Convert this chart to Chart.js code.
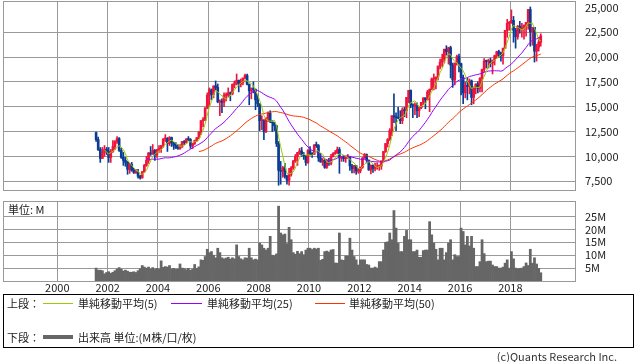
<!DOCTYPE html>
<html>
<head>
<meta charset="utf-8">
<script src="https://cdn.jsdelivr.net/npm/chart.js@4.4.1/dist/chart.umd.min.js"></script>
<style>
  body { margin: 0; background: #fff; width: 638px; height: 362px; overflow: hidden; position: relative;
         font-family: "Noto Sans CJK JP", "DejaVu Sans", sans-serif; color: #222; }
  #upper { position: absolute; left: 0; top: 0; width: 638px; height: 191px; }
  #lower { position: absolute; left: 0; top: 195px; width: 638px; height: 100px; }
  .unit { position: absolute; left: 8px; top: 202px; font-size: 11px; line-height: 14px; }
  .legend { position: absolute; left: 3px; top: 294px; width: 631px; height: 54px; border: 1px solid #000; box-sizing: border-box; font-size: 11px; }
  .legend span { position: absolute; line-height: 14px; white-space: nowrap; }
  .legend i { position: absolute; display: block; }
  .copy { position: absolute; right: 21px; top: 349px; font-size: 11px; line-height: 14px; color: #333; }
  #err { position: absolute; left: 10px; top: 10px; color: #c00; font-size: 11px; }
</style>
</head>
<body>
<div id="upper"><canvas id="priceChart"></canvas></div>
<div id="lower"><canvas id="volumeChart"></canvas></div>
<div class="unit">単位: M</div>
<div class="legend">
  <span style="left:3px;top:1px">上段：</span>
  <i style="left:39px;top:8px;width:30px;height:1px;background:#99cc00"></i>
  <span style="left:74px;top:1px">単純移動平均(5)</span>
  <i style="left:167px;top:8px;width:31px;height:1px;background:#9900ff"></i>
  <span style="left:203px;top:1px">単純移動平均(25)</span>
  <i style="left:311px;top:8px;width:30px;height:1px;background:#ff3300"></i>
  <span style="left:345px;top:1px">単純移動平均(50)</span>
  <span style="left:3px;top:35px">下段：</span>
  <i style="left:39px;top:40px;width:30px;height:4px;background:#666"></i>
  <span style="left:74px;top:35px">出来高 単位:(M株/口/枚)</span>
</div>
<div class="copy">(c)Quants Research Inc.</div>
<div id="err"></div>

<script>
window.onerror = function (m) { document.getElementById('err').textContent += ' ' + m; };

// Monthly bars, first one is July 2001
const startYear = 2001;
const startMonth = 7;

const opens = [
  12400, 11700, 10700, 9800, 10400, 10700,
  10500, 9900, 10500, 11000, 11500, 11800, 10600, 9900, 9600, 9400, 8700, 9200,
  8600, 8350, 8400, 8000, 7850, 8450, 9100, 9600, 10350, 10250, 10600, 10150,
  10700, 10800, 11100, 11750, 11800, 11300, 11900, 11400, 11100, 10850, 10800, 10950,
  11500, 11400, 11750, 11700, 11050, 11300, 11600, 11900, 12450, 13600, 13650, 14900,
  16150, 16700, 16250, 17100, 16950, 15500, 15550, 15450, 16150, 16150, 16400, 16300,
  17250, 17400, 17650, 17300, 17400, 17900, 18150, 17250, 16600, 16800, 16750, 15700,
  15300, 13600, 13600, 12500, 13850, 14350, 13500, 13400, 13100, 11300, 8600, 8500,
  8850, 8000, 7600, 8200, 8850, 9550, 10000, 10400, 10550, 10150, 10100, 9400,
  10600, 10250, 10200, 11150, 11100, 9850, 9450, 9600, 8900, 9450, 9300, 10000,
  10300, 10350, 10700, 9850, 9950, 9780, 9900, 9930, 9050, 8780, 9070, 8520,
  8550, 8900, 9830, 10180, 9620, 8640, 9100, 8790, 8940, 8970, 9030, 9550,
  10500, 11300, 11700, 12600, 14100, 14000, 13900, 13850, 13600, 14700, 14600, 15950,
  16650, 15200, 15100, 15100, 14600, 14900, 15450, 15900, 15700, 16500, 16750, 17800,
  17800, 18000, 19100, 19500, 19800, 20800, 20550, 20950, 19200, 17700, 19400, 20050,
  19350, 17950, 16400, 17150, 17050, 17600, 15950, 16950, 17300, 16850, 17850, 18750,
  19600, 19550, 19600, 19400, 19700, 20150, 20550, 20400, 20150, 20900, 22700, 23400,
  23450, 23700, 22700, 22050, 23100, 22850, 22950, 23200, 23500, 24800, 22550, 23000,
  20600, 21000, 21500
];
const highs = [
  12460, 11950, 10900, 10900, 11100, 10900,
  10900, 10700, 11600, 11600, 12000, 11900, 10800, 10400, 9900, 9500, 9300, 9400,
  8800, 8700, 8700, 8100, 8500, 9200, 10000, 10400, 11000, 11200, 10700, 10700,
  11100, 11100, 11800, 12200, 11900, 12000, 11950, 11400, 11400, 11200, 11200, 11500,
  11600, 11800, 12000, 11800, 11300, 11650, 11900, 12500, 13600, 13900, 14900, 16400,
  16900, 16800, 17100, 17600, 17300, 15700, 15800, 16400, 16400, 16900, 16500, 17300,
  17600, 18300, 17700, 17800, 17900, 18300, 18300, 17300, 16900, 17500, 16800, 16200,
  15300, 14100, 13700, 13900, 14500, 14600, 13600, 13400, 13100, 11500, 9500, 9000,
  9300, 8100, 8800, 8980, 9600, 10200, 10400, 10800, 10900, 10400, 10100, 10700,
  11000, 10400, 11200, 11450, 11200, 10300, 9800, 9700, 9700, 9800, 10200, 10400,
  10600, 10950, 10900, 9950, 10100, 9950, 10200, 9950, 9200, 9100, 9100, 8800,
  8950, 9900, 10300, 10250, 9650, 9150, 9150, 9300, 9350, 9150, 9550, 10500,
  11300, 11800, 12800, 14100, 16300, 14400, 14950, 14600, 14900, 14950, 15950, 16650,
  16700, 15300, 15400, 15400, 15000, 15450, 15900, 15900, 16650, 16800, 17900, 18300,
  18000, 19100, 19800, 20300, 20800, 21150, 21000, 21100, 19400, 19400, 20200, 20300,
  19400, 18200, 17500, 17900, 17800, 17700, 17000, 17300, 17500, 17950, 18800, 19850,
  19700, 19800, 19900, 19700, 20200, 20600, 20700, 20500, 20900, 22700, 23800, 23600,
  24750, 24100, 22900, 23200, 23600, 23400, 23250, 23500, 24800, 25050, 23000, 23000,
  21300, 22000, 22350
];
const lows = [
  11500, 10600, 9400, 9800, 10000, 10200,
  9400, 9400, 10400, 10700, 11300, 10500, 9800, 9100, 9000, 8200, 8300, 8500,
  8300, 8300, 7800, 7700, 7800, 8400, 9000, 9300, 10100, 10200, 9600, 9900,
  10400, 10400, 10900, 11500, 10500, 11100, 11000, 10700, 10800, 10700, 10700, 10900,
  11200, 11300, 11600, 10800, 10800, 11200, 11500, 11800, 12200, 13000, 13600, 14800,
  15100, 15700, 15900, 16700, 15400, 14100, 14400, 15000, 15600, 16000, 15600, 16200,
  16900, 17200, 16500, 17000, 17200, 17800, 17200, 15200, 15800, 16400, 14700, 15000,
  12600, 12700, 11700, 12400, 13500, 13400, 12500, 12600, 11000, 7100, 7200, 7900,
  7800, 7200, 7100, 8000, 8700, 9400, 9100, 10200, 10000, 9700, 9100, 9300,
  10200, 9900, 10200, 10900, 9500, 9400, 9100, 8800, 8800, 9100, 9150, 9950,
  10200, 10300, 8300, 9500, 9500, 9400, 9800, 8600, 8350, 8350, 8200, 8300,
  8350, 8800, 9800, 9350, 8600, 8250, 8400, 8550, 8700, 8600, 8700, 9400,
  10400, 10950, 11600, 12100, 13400, 12600, 13800, 13300, 13300, 14000, 13900, 15400,
  14900, 13900, 14200, 13900, 14000, 14800, 15200, 14800, 15700, 14500, 16700, 16700,
  16800, 17700, 18800, 19000, 19400, 20200, 19300, 17900, 16950, 17200, 19200, 18500,
  16200, 15300, 15900, 15700, 16300, 15200, 15300, 16300, 16400, 16500, 16500, 18500,
  18900, 18900, 19000, 18300, 19200, 19900, 20000, 19600, 19300, 20900, 22000, 22700,
  23400, 21500, 20900, 21800, 22400, 22000, 21800, 22100, 22800, 21100, 21200, 19500,
  19600, 20600, 21100
];
const closes = [
  11700, 10700, 9800, 10400, 10700, 10500,
  9900, 10500, 11000, 11500, 11800, 10600, 9900, 9600, 9400, 8700, 9200, 8600,
  8350, 8400, 8000, 7850, 8450, 9100, 9600, 10350, 10250, 10600, 10150, 10700,
  10800, 11100, 11750, 11800, 11300, 11900, 11400, 11100, 10850, 10800, 10950, 11500,
  11400, 11750, 11700, 11050, 11300, 11600, 11900, 12450, 13600, 13650, 14900, 16150,
  16700, 16250, 17100, 16950, 15500, 15550, 15450, 16150, 16150, 16400, 16300, 17250,
  17400, 17650, 17300, 17400, 17900, 18150, 17250, 16600, 16800, 16750, 15700, 15300,
  13600, 13600, 12500, 13850, 14350, 13500, 13400, 13100, 11300, 8600, 8500, 8850,
  8000, 7600, 8200, 8850, 9550, 10000, 10400, 10550, 10150, 10100, 9400, 10600,
  10250, 10200, 11150, 11100, 9850, 9450, 9600, 8900, 9450, 9300, 10000, 10300,
  10350, 10700, 9850, 9950, 9780, 9900, 9930, 9050, 8780, 9070, 8520, 8550,
  8900, 9830, 10180, 9620, 8640, 9100, 8790, 8940, 8970, 9030, 9550, 10500,
  11300, 11700, 12600, 14100, 14000, 13900, 13850, 13600, 14700, 14600, 15950, 16650,
  15200, 15100, 15100, 14600, 14900, 15450, 15900, 15700, 16500, 16750, 17800, 17800,
  18000, 19100, 19500, 19800, 20800, 20550, 20950, 19200, 17700, 19400, 20050, 19350,
  17950, 16400, 17150, 17050, 17600, 15950, 16950, 17300, 16850, 17850, 18750, 19600,
  19550, 19600, 19400, 19700, 20150, 20550, 20400, 20150, 20900, 22700, 23400, 23450,
  23700, 22700, 22050, 23100, 22850, 22950, 23200, 23500, 24800, 22550, 23000, 20600,
  21000, 21500, 22150
];
// volume in millions
const volumes = [
  5.0, 4.2, 4.2, 4.0, 2.8, 3.3,
  3.6, 3.0, 3.4, 4.0, 4.6, 5.2, 4.6, 3.9, 4.2, 3.8, 3.4, 3.4,
  3.6, 3.3, 4.0, 4.8, 6.0, 5.4, 5.0, 5.4, 4.6, 5.2, 4.5, 4.9,
  4.6, 7.8, 5.3, 5.6, 5.4, 6.0, 4.6, 4.9, 4.5, 4.6, 6.6, 5.0,
  4.8, 4.4, 4.9, 4.2, 4.6, 6.4, 4.9, 5.5, 8.2, 8.0, 9.5, 12.3,
  11.0, 11.4, 10.0, 9.0, 12.7, 11.0, 9.0, 8.6, 8.9, 9.2, 8.5, 9.0,
  8.6, 14.0, 9.5, 8.6, 8.2, 9.0, 8.9, 12.7, 9.0, 8.2, 8.5, 8.2,
  14.7, 14.0, 12.7, 12.0, 12.7, 17.3, 10.0, 9.8, 10.5, 29.0, 18.6, 17.9,
  18.2, 14.5, 20.8, 16.0, 11.0, 10.4, 11.5, 10.6, 11.4, 10.2, 12.0, 12.7,
  12.7, 12.2, 12.7, 12.4, 12.7, 8.0, 8.4, 11.4, 11.6, 11.2, 12.0, 12.2,
  7.0, 6.9, 18.6, 8.2, 8.0, 9.7, 9.7, 16.6, 12.0, 9.5, 8.2, 6.2,
  8.2, 8.2, 8.2, 6.4, 6.2, 5.0, 5.0, 5.4, 5.0, 7.5, 7.5, 12.0,
  15.0, 15.2, 18.6, 16.0, 27.3, 20.5, 14.7, 11.4, 11.4, 17.3, 19.6, 16.0,
  16.0, 11.4, 11.4, 12.0, 9.2, 9.2, 11.8, 12.0, 12.0, 23.0, 17.9, 14.7,
  12.3, 8.2, 12.7, 12.7, 8.2, 11.0, 14.7, 16.0, 8.2, 10.2, 9.5, 9.5,
  20.5, 19.2, 14.0, 17.3, 13.6, 17.3, 12.7, 5.6, 5.6, 7.5, 16.0, 10.6,
  7.5, 7.7, 7.7, 6.2, 5.6, 5.6, 5.0, 5.0, 5.4, 6.9, 8.2, 5.0,
  11.4, 8.6, 5.0, 4.7, 4.9, 5.0, 5.6, 7.0, 6.0, 12.3, 6.9, 9.0,
  6.6, 4.9, 3.2
];

const yearTicks = [2000, 2002, 2004, 2006, 2008, 2010, 2012, 2014, 2016, 2018];
const priceTicks = [7500, 10000, 12500, 15000, 17500, 20000, 22500, 25000];
const volumeTicks = [5, 10, 15, 20, 25];

const upColor = '#f0143c';
const downColor = '#0a3c96';
const gridColor = '#999';
const xMin = 1997.843;
const xMax = 2020.568;

// month centre on the time axis
const xs = closes.map((c, i) => startYear + (startMonth - 1 + i) / 12 + 1 / 24);

function movingAverage(values, n) {
    return values.map((v, i) => {
        if (i < n - 1) return null;
        let sum = 0;
        for (let k = i - n + 1; k <= i; k++) sum += values[k];
        return sum / n;
    });
}

const barColors = closes.map((c, i) => c >= opens[i] ? upColor : downColor);

function maDataset(n, color) {
    const ma = movingAverage(closes, n);
    return {
        type: 'line',
        data: xs.map((x, i) => ({ x: x, y: ma[i] })),
        borderColor: color,
        borderWidth: 1,
        pointRadius: 0,
        tension: 0,
        order: 0
    };
}

// grey frame round the plot area
const framePlugin = {
    id: 'frame',
    afterDraw(chart) {
        const a = chart.chartArea;
        const ctx = chart.ctx;
        ctx.save();
        ctx.strokeStyle = gridColor;
        ctx.lineWidth = 1;
        ctx.strokeRect(Math.round(a.left) + 0.5, Math.round(a.top) + 0.5,
            Math.round(a.right - a.left), Math.round(a.bottom - a.top));
        ctx.restore();
    }
};

const tickFont = { family: '"Noto Sans CJK JP", "DejaVu Sans", sans-serif', size: 11 };

function timeAxis(showLabels) {
    return {
        type: 'linear',
        min: xMin,
        max: xMax,
        offset: false,
        afterBuildTicks: s => { s.ticks = yearTicks.map(v => ({ value: v })); },
        afterFit: s => { s.height = showLabels ? 14 : 0; s.paddingLeft = 0; s.paddingRight = 0; },
        ticks: { display: showLabels, padding: 0, color: '#222', font: tickFont, maxRotation: 0, autoSkip: false, callback: v => String(v) },
        grid: { color: gridColor, drawTicks: false, offset: false },
        border: { display: false }
    };
}

function valueAxis(min, max, ticks, fmt, hidden) {
    return {
        type: 'linear',
        position: 'right',
        min: min,
        max: max,
        afterBuildTicks: s => { s.ticks = ticks.map(v => ({ value: v })); },
        afterFit: s => { s.width = 63; s.paddingTop = 0; s.paddingBottom = 0; },
        ticks: { padding: 10, color: '#222', font: tickFont, callback: fmt },
        grid: {
            color: c => (c.tick && c.tick.value === hidden) ? 'rgba(0,0,0,0)' : gridColor,
            drawTicks: false
        },
        border: { display: false }
    };
}

new Chart(document.getElementById('priceChart'), {
    type: 'bar',
    data: {
        datasets: [
            maDataset(5, '#99cc00'),
            maDataset(25, '#9900ff'),
            maDataset(50, '#ff3300'),
            {
                data: xs.map((x, i) => ({ x: x, y: [opens[i], closes[i]] })),
                backgroundColor: barColors,
                barThickness: 2,
                minBarLength: 1,
                grouped: false,
                order: 1
            },
            {
                data: xs.map((x, i) => ({ x: x, y: [lows[i], highs[i]] })),
                backgroundColor: barColors,
                barThickness: 1,
                grouped: false,
                order: 2
            }
        ]
    },
    options: {
        responsive: true,
        maintainAspectRatio: false,
        animation: false,
        events: [],
        layout: { padding: { left: 3, top: 1, right: 0, bottom: 1 } },
        plugins: { legend: { display: false }, tooltip: { enabled: false } },
        scales: {
            x: timeAxis(false),
            y: valueAxis(6620, 25650, priceTicks, v => v.toLocaleString('en-US'), 25000)
        }
    },
    plugins: [framePlugin]
});

new Chart(document.getElementById('volumeChart'), {
    type: 'bar',
    data: {
        datasets: [{
            data: xs.map((x, i) => ({ x: x, y: volumes[i] })),
            backgroundColor: '#666',
            barPercentage: 1,
            categoryPercentage: 1
        }]
    },
    options: {
        responsive: true,
        maintainAspectRatio: false,
        animation: false,
        events: [],
        layout: { padding: { left: 3, top: 6, right: 0, bottom: 0 } },
        plugins: { legend: { display: false }, tooltip: { enabled: false } },
        scales: {
            x: timeAxis(true),
            y: valueAxis(0, 31, volumeTicks, v => v + 'M', null)
        }
    },
    plugins: [framePlugin]
});
</script>
</body>
</html>
